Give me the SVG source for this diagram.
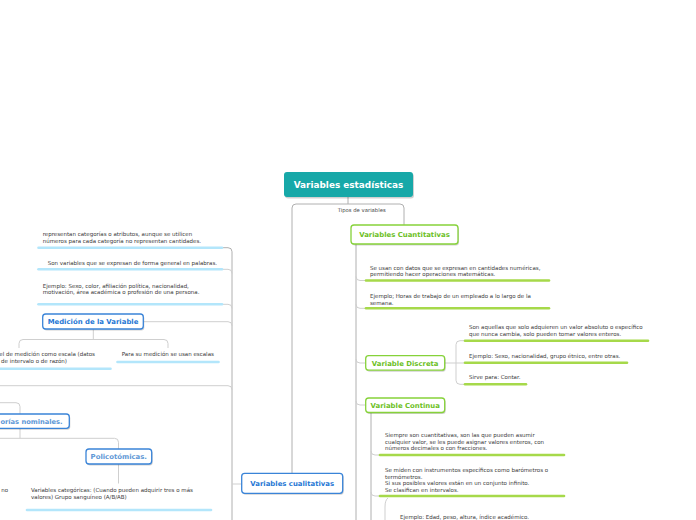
<svg xmlns="http://www.w3.org/2000/svg" width="696" height="520" viewBox="0 0 696 520">
<style>
.t{font-family:"DejaVu Sans",Verdana,sans-serif;font-size:5.5px;fill:#3a3a3a}
.lbl{font-family:"DejaVu Sans",Verdana,sans-serif;font-size:5.3px;fill:#444;text-anchor:middle}
.nb{font-family:"DejaVu Sans",Verdana,sans-serif;font-weight:bold;font-size:6.9px;text-anchor:middle}
.g{fill:#6cc024}
.b{fill:#2677d4}
.lb{fill:#5e98d6}
.gn{fill:#fff;stroke:#86d23a;stroke-width:1.3}
.bn{fill:#fff;stroke:#3a84d8;stroke-width:1.3}
.sh{fill:#000;opacity:0.18}
.c{fill:none;stroke:#cfcfcf;stroke-width:1}
.cm{fill:none;stroke:#b0b0b0;stroke-width:1}
.ug{stroke:#a6d94a;stroke-width:2.6;stroke-linecap:round}
.ub{stroke:#b3e6fb;stroke-width:2.6;stroke-linecap:round}
</style>
<rect width="696" height="520" fill="#fff"/>
<g id="connectors">
<path class="cm" d="M348 197 L348 204"/>
<path class="cm" d="M292 473 L292 208 Q292 204 296 204 L400 204 Q404 204 404 208 L404 225"/>
<path class="cm" d="M356 244 L356 520"/>
<path class="c" d="M356 276.5 Q356 280.5 360 280.5 L366 280.5"/>
<path class="c" d="M356 304.3 Q356 308.3 360 308.3 L366 308.3"/>
<path class="c" d="M356 359 Q356 363 360 363 L366 363"/>
<path class="c" d="M356 401 Q356 405 360 405 L366 405"/>
<path class="c" d="M445 363 L464 363"/>
<path class="c" d="M464 340.7 L460 340.7 Q456 340.7 456 344.7 L456 380.3 Q456 384.3 460 384.3 L464 384.3"/>
<path class="cm" d="M371 412 L371 520"/>
<path class="c" d="M371 451 Q371 455 375 455 L380 455"/>
<path class="c" d="M371 492 Q371 496 375 496 L380 496"/>
<path class="c" d="M388 498 Q385 500 385 507 L385 520"/>
<path class="cm" d="M222.7 247.7 L228 247.7 Q232 247.7 232 251.7 L232 520"/>
<path class="c" d="M222.7 269.3 L228 269.3 Q232 269.3 232 273.3"/>
<path class="c" d="M222.7 304.3 L228 304.3 Q232 304.3 232 308.3"/>
<path class="c" d="M143.5 321.7 L228 321.7 Q232 321.7 232 325.7"/>
<path class="c" d="M0 385.7 L228 385.7 Q232 385.7 232 389.7"/>
<path class="c" d="M242 484 L232 484"/>
<path class="c" d="M93.3 329 L93.3 339.5"/>
<path class="c" d="M19 348 L19 343.5 Q19 339.5 23 339.5 L164 339.5 Q168 339.5 168 343.5 L168 348"/>
<path class="c" d="M0 402.7 L16 402.7 Q20 402.7 20 406.7 L20 414"/>
<path class="c" d="M20 428.3 L20 438.3"/>
<path class="c" d="M0 438.3 L114.5 438.3 Q118.5 438.3 118.5 442.3 L118.5 449"/>
<path class="c" d="M118.5 464 L118.5 483.5"/>
</g>
<g id="title">
<rect class="sh" x="285" y="173.5" width="129" height="25" rx="3"/>
<rect x="284" y="172" width="129" height="25" rx="3" fill="#17a8a8"/>
<text x="348.5" y="187.8" font-family="DejaVu Sans,Verdana,sans-serif" font-weight="bold" font-size="8.9" fill="#fff" text-anchor="middle">Variables estadísticas</text>
</g>
<g id="tipos-label"><text class="lbl" x="361.7" y="212">Tipos de variables</text></g>
<g id="cuantitativas">
<rect class="sh" x="352" y="226.5" width="107" height="19" rx="3"/>
<rect class="gn" x="351" y="225" width="107" height="19" rx="3"/>
<text class="nb g" x="404.5" y="237">Variables Cuantitativas</text>
</g>
<g id="cuant-t1">
<text class="t" x="370" y="269.5">Se usan con datos que se expresan en cantidades numéricas,</text>
<text class="t" x="370" y="276">permitiendo hacer operaciones matemáticas.</text>
<line class="ug" x1="366" y1="280.5" x2="549" y2="280.5"/>
</g>
<g id="cuant-t2">
<text class="t" x="370" y="298">Ejemplo; Horas de trabajo de un empleado a lo largo de la</text>
<text class="t" x="370" y="304.5">semana.</text>
<line class="ug" x1="366" y1="308.3" x2="549" y2="308.3"/>
</g>
<g id="discreta">
<rect class="sh" x="366.7" y="357.2" width="79" height="14.5" rx="3"/>
<rect class="gn" x="365.7" y="355.7" width="79" height="14.5" rx="3"/>
<text class="nb g" x="405.2" y="365.5">Variable Discreta</text>
</g>
<g id="disc-t1">
<text class="t" x="469" y="329.3">Son aquellas que solo adquieren un valor absoluto o específico</text>
<text class="t" x="469" y="336">que nunca cambia, solo pueden tomar valores enteros.</text>
<line class="ug" x1="465" y1="340.7" x2="648" y2="340.7"/>
</g>
<g id="disc-t2">
<text class="t" x="469" y="358">Ejemplo: Sexo, nacionalidad, grupo étnico, entre otras.</text>
<line class="ug" x1="465" y1="362.7" x2="627" y2="362.7"/>
</g>
<g id="disc-t3">
<text class="t" x="469" y="378.7">Sirve para: Contar.</text>
<line class="ug" x1="465" y1="384.3" x2="526" y2="384.3"/>
</g>
<g id="continua">
<rect class="sh" x="366.7" y="399.5" width="79" height="14.5" rx="3"/>
<rect class="gn" x="365.7" y="398" width="79" height="14.5" rx="3"/>
<text class="nb g" x="405.2" y="407.8">Variable Continua</text>
</g>
<g id="cont-t1">
<text class="t" x="385" y="437">Siempre son cuantitativas, son las que pueden asumir</text>
<text class="t" x="385" y="443.5">cualquier valor, se les puede asignar valores enteros, con</text>
<text class="t" x="385" y="450">números decimales o con fracciones.</text>
<line class="ug" x1="380" y1="455" x2="564" y2="455"/>
</g>
<g id="cont-t2">
<text class="t" x="385" y="472">Se miden con instrumentos específicos como barómetros o</text>
<text class="t" x="385" y="478.5">termómetros.</text>
<text class="t" x="385" y="485">Si sus posibles valores están en un conjunto infinito.</text>
<text class="t" x="385" y="491.5">Se clasifican en intervalos.</text>
<line class="ug" x1="380" y1="496" x2="564" y2="496"/>
</g>
<g id="cont-t3">
<text class="t" x="400" y="519">Ejemplo: Edad, peso, altura, índice académico.</text>
</g>
<g id="cualitativas">
<rect class="sh" x="242.7" y="474.8" width="101" height="20" rx="3"/>
<rect class="bn" x="241.7" y="473.3" width="101" height="20" rx="3"/>
<text class="nb b" x="292.2" y="485.8">Variables cualitativas</text>
</g>
<g id="cual-t1">
<text class="t" x="42.7" y="236">representan categorías o atributos, aunque se utilicen</text>
<text class="t" x="42.7" y="242.5">números para cada categoría no representan cantidades.</text>
<line class="ub" x1="38.5" y1="247.7" x2="222" y2="247.7"/>
</g>
<g id="cual-t2">
<text class="t" x="47.7" y="264.7">Son variables que se expresan de forma general en palabras.</text>
<line class="ub" x1="38.5" y1="269.3" x2="222" y2="269.3"/>
</g>
<g id="cual-t3">
<text class="t" x="42.7" y="287.5">Ejemplo: Sexo, color, afiliación política, nacionalidad,</text>
<text class="t" x="42.7" y="293.5">motivación, área académica o profesión de una persona.</text>
<line class="ub" x1="38.5" y1="304.3" x2="222" y2="304.3"/>
</g>
<g id="medicion">
<rect class="sh" x="43.7" y="315.5" width="100.6" height="15" rx="3"/>
<rect class="bn" x="42.7" y="314" width="100.6" height="15" rx="3"/>
<text class="nb b" x="93" y="324">Medición de la Variable</text>
</g>
<g id="med-t1">
<text class="t" x="95" y="356.3" text-anchor="end">el de medición como escala (datos</text>
<text class="t" x="67" y="363" text-anchor="end">de intervalo o de razón)</text>
<line class="ub" x1="0" y1="368.7" x2="110.5" y2="368.7"/>
</g>
<g id="med-t2">
<text class="t" x="121.7" y="356.3">Para su medición se usan escalas</text>
<line class="ub" x1="117.5" y1="362" x2="218.5" y2="362"/>
</g>
<g id="nominales">
<rect class="sh" x="-39" y="415.5" width="109.3" height="14.3" rx="3"/>
<rect class="bn" x="-40" y="414" width="109.3" height="14.3" rx="3"/>
<text class="nb lb" x="0.4" y="424" style="text-anchor:start;font-size:6.7px">orías nominales.</text>
</g>
<g id="policotomicas">
<rect class="sh" x="87" y="450.5" width="65.7" height="15" rx="3"/>
<rect class="bn" x="86" y="449" width="65.7" height="15" rx="3"/>
<text class="nb lb" x="118.8" y="459">Policotómicas.</text>
</g>
<g id="poli-t1">
<text class="t" x="31" y="492">Variables categóricas: (Cuando pueden adquirir tres o más</text>
<text class="t" x="31" y="498.5">valores) Grupo sanguíneo (A/B/AB)</text>
<line class="ub" x1="27" y1="510" x2="211" y2="510"/>
</g>
<g id="dico-t1">
<text class="t" x="8" y="492" text-anchor="end">no</text>
</g>
</svg>
